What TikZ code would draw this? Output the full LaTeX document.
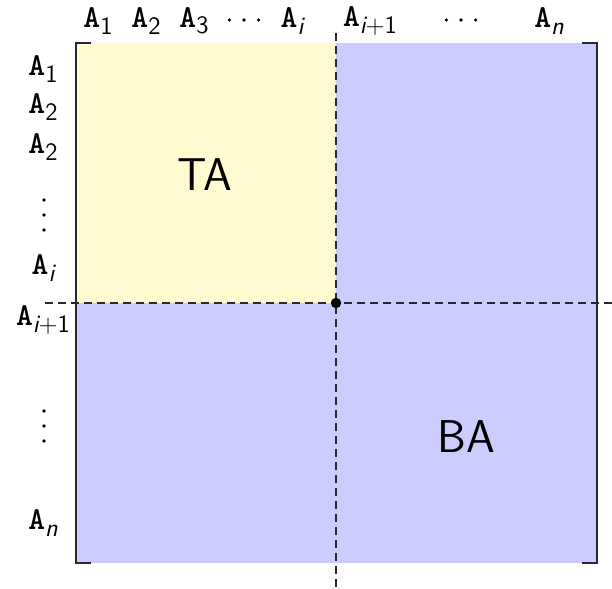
\documentclass[tikz,border=0pt]{standalone}
\usepackage{fontspec}
\newfontfamily\ttb{lmmonolt10-bold.otf}
\definecolor{ylw}{RGB}{255,250,208}
\definecolor{blu}{RGB}{204,204,255}
\definecolor{ink}{RGB}{40,40,50}
\newcommand{\Asub}[1]{{\ttb A}\raisebox{-0.45ex}{\fontsize{12.5}{14}\selectfont\sffamily #1}}
\newcommand{\vdts}{\tikz{\foreach \k in {0,1,2} \fill (0,\k*7.5pt) circle (0.9pt);}}
\newcommand{\hdts}{\tikz{\foreach \k in {0,1,2} \fill (\k*7.3pt,0) circle (0.9pt);}}
\begin{document}
\begin{tikzpicture}[x=0.5pt,y=-0.5pt,
  lbl/.style={font=\fontsize{16}{19}\selectfont, inner sep=0pt, text=black},
  big/.style={font=\fontsize{23}{27}\selectfont\sffamily, text=black},
  dline/.style={draw=ink, line width=0.8pt, dash pattern=on 4pt off 2.5pt},
  brk/.style={draw=ink, line width=0.7pt}]
\useasboundingbox (0,0) rectangle (612,589);
% fills
\fill[blu] (76,43) rectangle (597,563);
\fill[ylw] (76,43) rectangle (336,303);
% brackets
\draw[brk] (91,43) -- (76,43) -- (76,563) -- (91,563);
\draw[brk] (582,43) -- (597,43) -- (597,563) -- (582,563);
% dashed lines
\coordinate (vt) at (336,33);
\coordinate (vb) at (336,589);
\coordinate (hl) at (45,303);
\coordinate (hr) at (612,303);
\draw[dline] (vt) -- (vb);
\draw[dline] (hl) -- (hr);
\fill[black] (336,303) circle (2.6pt);
% region labels
\node[big] (ta) at (205,175) {TA};
\node[big] (ba) at (466,437) {BA};
% top labels
\node[lbl] (t1) at (98,21) {\Asub{1}};
\node[lbl] (t2) at (146,21) {\Asub{2}};
\node[lbl] (t3) at (194,21) {\Asub{3}};
\node[lbl] (t4) at (244,20) {\hdts};
\node[lbl] (t5) at (292,21) {\Asub{\itshape i}};
\node[lbl] (t6) at (370,21) {\Asub{{\itshape i}+1}};
\node[lbl] (t7) at (461,20) {\hdts};
\node[lbl] (t8) at (549,21) {\Asub{\itshape n}};
% left labels
\node[lbl] (l1) at (43,69) {\Asub{1}};
\node[lbl] (l2) at (43,107) {\Asub{2}};
\node[lbl] (l3) at (43,147) {\Asub{2}};
\node[lbl] (l4) at (44,215) {\vdts};
\node[lbl] (l5) at (43,268) {\Asub{\itshape i}};
\node[lbl] (l6) at (43,320) {\Asub{{\itshape i}+1}};
\node[lbl] (l7) at (44,426) {\vdts};
\node[lbl] (l8) at (43,523) {\Asub{\itshape n}};
\end{tikzpicture}
\end{document}
